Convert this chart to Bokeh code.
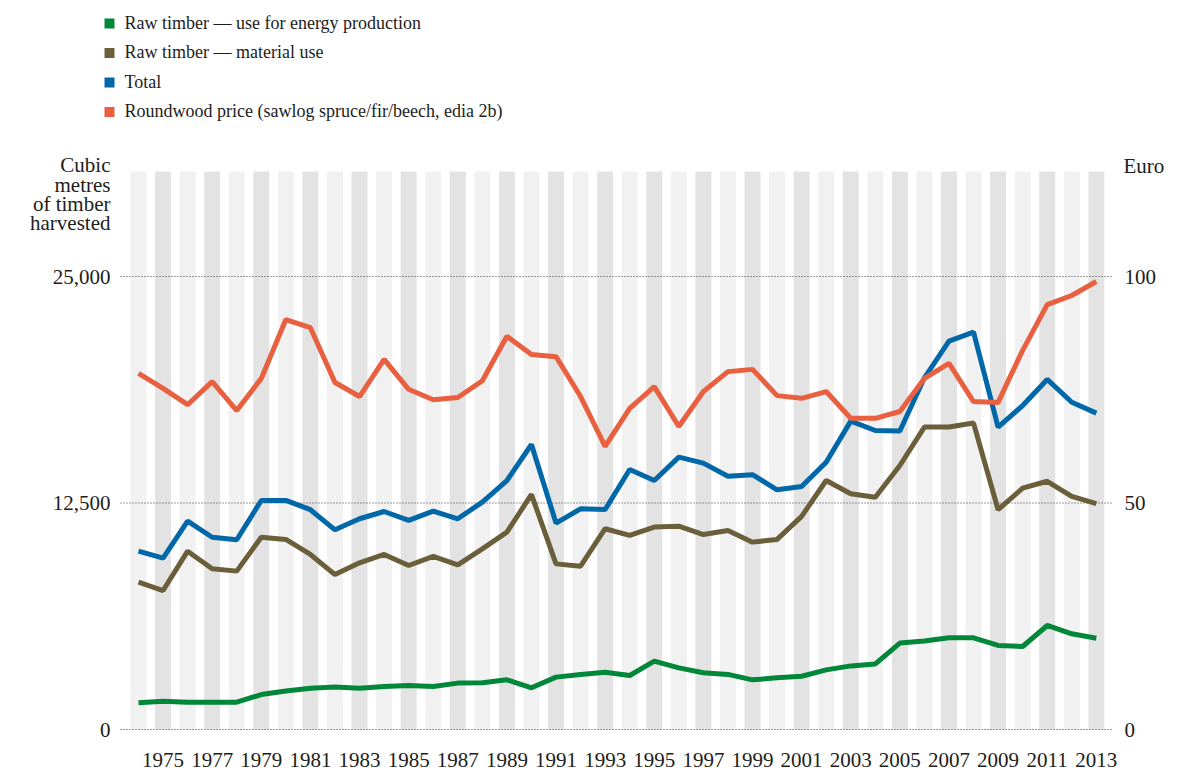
from bokeh.plotting import figure
from bokeh.models import Range1d
from bokeh.core.properties import value
from bokeh.embed import file_html
from bokeh.resources import INLINE

# ---------------- data ----------------
years = list(range(1974, 2014))

energy = [1470, 1560, 1510, 1510, 1510, 1930, 2120, 2280, 2340, 2280,
          2370, 2430, 2370, 2560, 2580, 2740, 2300, 2890, 3040, 3160,
          2980, 3770, 3400, 3130, 3040, 2740, 2850, 2940, 3290, 3510,
          3620, 4770, 4880, 5060, 5060, 4640, 4580, 5740, 5280, 5040]

material = [8130, 7670, 9840, 8870, 8740, 10610, 10490, 9660, 8550, 9200,
            9660, 9050, 9550, 9090, 9970, 10890, 12970, 9140, 9010, 11080,
            10710, 11170, 11220, 10760, 10980, 10340, 10490, 11760, 13740, 13010,
            12820, 14570, 16690, 16690, 16910, 12130, 13320, 13700, 12860, 12460]

total = [9840, 9460, 11500, 10610, 10470, 12640, 12640, 12130, 11020, 11630,
         12030, 11540, 12050, 11630, 12550, 13740, 15730, 11390, 12180, 12140,
         14350, 13740, 15030, 14700, 13980, 14060, 13230, 13410, 14750, 17020,
         16500, 16470, 19410, 21430, 21930, 16690, 17880, 19320, 18060, 17460]

price = [78.6, 75.3, 71.7, 76.8, 70.4, 77.5, 90.5, 88.7, 76.6, 73.5,
         81.7, 75.1, 72.8, 73.3, 77.0, 86.8, 82.8, 82.3, 73.5, 62.5,
         70.9, 75.7, 66.9, 74.6, 79.0, 79.5, 73.7, 73.1, 74.6, 68.7,
         68.7, 70.2, 77.5, 80.8, 72.4, 72.2, 83.7, 93.8, 95.8, 98.9]

left_ticks = [0, 12500, 25000]
left_tick_labels = ["0", "12,500", "25,000"]
right_ticks = [0, 50, 100]
right_tick_labels = ["0", "50", "100"]
year_ticks = list(range(1975, 2014, 2))
year_labels = [str(y) for y in year_ticks]

series_labels = ["Raw timber \u2014 use for energy production",
                 "Raw timber \u2014 material use",
                 "Total",
                 "Roundwood price (sawlog spruce/fir/beech, edia 2b)"]
left_title = ["Cubic", "metres", "of timber", "harvested"]
right_title = ["Euro"]

# ---------------- styles / layout ----------------
GREEN, BROWN, BLUE, ORANGE = "#00873A", "#6B5E3A", "#0068A8", "#E8603F"
SERIES_COLORS = [GREEN, BROWN, BLUE, ORANGE]
STRIPE_LIGHT, STRIPE_DARK = "#F1F1F1", "#E3E3E3"
FONT = "Liberation Serif"
TXT = "#1d1d1b"

W, H = 1198, 771
PX_PER_YEAR = 24.56
FIRST_YEAR_PX = 138.0          # pixel x of first year
ZERO_PX = 729.0                # pixel y of value 0
PX_PER_UNIT = 226.5 / 12500.0  # pixels per cubic metre
EURO_FACTOR = 250.0            # cubic metres per euro on the shared scale

X0 = years[0] - FIRST_YEAR_PX / PX_PER_YEAR
X1 = X0 + W / PX_PER_YEAR
Y0 = -(H - ZERO_PX) / PX_PER_UNIT
Y1 = ZERO_PX / PX_PER_UNIT


def px_x(px):
    return X0 + px / PX_PER_YEAR


def px_y(py):
    return (ZERO_PX - py) / PX_PER_UNIT


STRIPE_TOP = px_y(171)
GRID_L, GRID_R = px_x(120), px_x(1112)

p = figure(width=W, height=H, output_backend="svg", toolbar_location=None,
           x_range=Range1d(X0, X1), y_range=Range1d(Y0, Y1),
           x_axis_location=None, y_axis_location=None,
           min_border=0)
p.min_border_left = p.min_border_right = p.min_border_top = p.min_border_bottom = 0
p.outline_line_color = None
p.grid.visible = False
p.background_fill_color = "white"
p.border_fill_color = "white"
p.extra_y_ranges = {"euro": Range1d(Y0 / EURO_FACTOR, Y1 / EURO_FACTOR)}

# year stripes
stripe_colors = [STRIPE_DARK if y % 2 else STRIPE_LIGHT for y in years]
p.vbar(x=years, top=STRIPE_TOP, bottom=0, width=0.65, color=stripe_colors,
       line_color=None)

# dotted gridlines at the left-axis ticks
p.segment(x0=[GRID_L] * len(left_ticks), x1=[GRID_R] * len(left_ticks),
          y0=left_ticks, y1=left_ticks, line_color="#3a3a3a", line_width=1,
          line_dash="1 2")

# series lines
p.line(years, energy, color=GREEN, line_width=5)
p.line(years, material, color=BROWN, line_width=5)
p.line(years, total, color=BLUE, line_width=5)
p.line(years, price, color=ORANGE, line_width=5, y_range_name="euro")

# tick labels
tick_style = dict(text_font=value(FONT), text_font_size=value("21px"), text_color=TXT,
                  text_baseline="middle")
p.text(x=[px_x(110)] * len(left_ticks), y=left_ticks, text=left_tick_labels,
       text_align="right", **tick_style)
p.text(x=[px_x(1124)] * len(right_ticks), y=right_ticks, text=right_tick_labels,
       text_align="left", y_range_name="euro", **tick_style)
p.text(x=year_ticks, y=[px_y(759)] * len(year_ticks), text=year_labels,
       text_align="center", **tick_style)

# axis titles
p.text(x=[px_x(110)] * len(left_title), y=[px_y(v) for v in (164, 184, 203, 222)],
       text=left_title, text_align="right", **tick_style)
p.text(x=[px_x(1123)], y=[px_y(165)], text=right_title, text_align="left", **tick_style)

# legend: square swatches + labels
rows_py = [22, 51.5, 81, 110.5]
p.rect(x=[px_x(109)] * 4, y=[px_y(v + 1) for v in rows_py], width=10, height=10,
       width_units="screen", height_units="screen", fill_color=SERIES_COLORS,
       line_color=None)
p.text(x=[px_x(124)] * 4, y=[px_y(v) for v in rows_py], text=series_labels,
       text_align="left", text_baseline="middle", text_font=value(FONT),
       text_font_size=value("18px"), text_color=TXT)

open("out.html", "w").write(file_html(p, INLINE))
